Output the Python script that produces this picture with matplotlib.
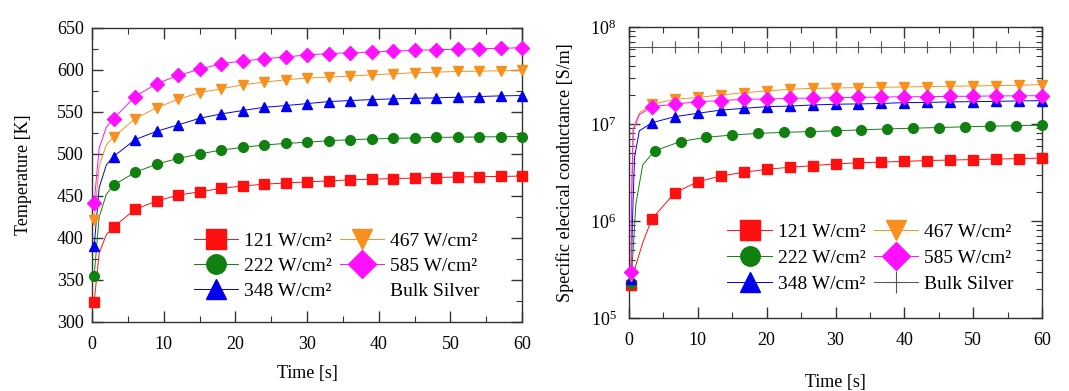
import matplotlib
matplotlib.use("Agg")
import matplotlib.pyplot as plt
from matplotlib.lines import Line2D
from matplotlib.ticker import MultipleLocator, LogLocator, LogFormatterMathtext, NullFormatter

plt.rcParams['font.family'] = ['Liberation Serif', 'DejaVu Serif']
plt.rcParams['mathtext.fontset'] = 'stix'

# ---------------- data: left panel (temperature) ----------------
labels = ['121 W/cm²', '222 W/cm²', '348 W/cm²', '467 W/cm²', '585 W/cm²']
colors = ['#ff1010', '#108010', '#0000ee', '#f8901e', '#ff10ff']
markers = ['s', 'o', '^', 'v', 'D']

t_left = [0.3, 1, 2, 3, 6, 9, 12, 15, 18, 21, 24, 27, 30, 33, 36, 39, 42, 45, 48, 51, 54, 57, 60]
T_121 = [324, 382, 404, 413, 434, 444, 451, 455, 459, 462, 464, 465.5, 466.8, 468, 469.2, 470, 470.8, 471.3, 472, 472.6, 473, 473.3, 473.7]
T_222 = [355, 425, 452, 463, 478, 488, 494.7, 500, 504.7, 507.8, 510.7, 512.6, 514, 515.8, 517, 517.9, 518.6, 519.1, 519.8, 520, 520.3, 520.6, 520.8]
T_348 = [390, 460, 487, 497, 517, 527, 534.6, 542.5, 547.7, 551.7, 555.6, 557.6, 560, 562.4, 563.6, 564.8, 565.6, 566.4, 566.8, 567.6, 568.4, 569.2, 569.6]
T_467 = [422, 486, 511, 520, 542, 555, 565, 573, 577.6, 582.4, 585.5, 588.4, 590.3, 591.5, 592.7, 594.3, 595.5, 596.7, 597.4, 598.3, 598.6, 599.1, 599.5]
T_585 = [442, 507, 532, 542, 568.4, 583.6, 593.5, 600.7, 607.5, 610.6, 613.4, 615.4, 618, 619.4, 620.6, 621.3, 622.5, 623.4, 624.2, 624.6, 625.4, 625.7, 626.6]

# ---------------- data: right panel (conductance) ----------------
t_r_121 = [0.3, 1, 2, 3.33, 6.67, 10, 13.33, 16.67, 20, 23.33, 26.67, 30, 33.33, 36.67, 40, 43.33, 46.67, 50, 53.33, 56.67, 60]
S_121 = [2.2e5, 3.5e5, 6.0e5, 1.05e6, 1.96e6, 2.54e6, 2.91e6, 3.18e6, 3.41e6, 3.58e6, 3.72e6, 3.88e6, 3.98e6, 4.05e6, 4.12e6, 4.2e6, 4.25e6, 4.3e6, 4.35e6, 4.4e6, 4.45e6]
t_r_222 = [0.3, 0.6, 1, 2, 3.75, 7.5, 11.25, 15, 18.75, 22.5, 26.25, 30, 33.75, 37.5, 41.25, 45, 48.75, 52.5, 56.25, 60]
S_222 = [2.3e5, 5e5, 1.5e6, 3.8e6, 5.3e6, 6.6e6, 7.3e6, 7.7e6, 8.0e6, 8.2e6, 8.35e6, 8.5e6, 8.7e6, 8.9e6, 9.05e6, 9.2e6, 9.35e6, 9.5e6, 9.6e6, 9.75e6]
t_r_348 = [0.3, 0.5, 0.8, 1.5, 3.33, 6.67, 10, 13.33, 16.67, 20, 23.33, 26.67, 30, 33.33, 36.67, 40, 43.33, 46.67, 50, 53.33, 56.67, 60]
S_348 = [2.5e5, 1.0e6, 4.5e6, 8.5e6, 1.03e7, 1.19e7, 1.29e7, 1.39e7, 1.45e7, 1.51e7, 1.53e7, 1.57e7, 1.60e7, 1.61e7, 1.63e7, 1.66e7, 1.67e7, 1.69e7, 1.70e7, 1.71e7, 1.73e7, 1.74e7]
t_r_467 = [0.3, 0.4, 0.6, 1.5, 3.33, 6.67, 10, 13.33, 16.67, 20, 23.33, 26.67, 30, 33.33, 36.67, 40, 43.33, 46.67, 50, 53.33, 56.67, 60]
S_467 = [2.7e5, 2.0e6, 9.0e6, 1.3e7, 1.6e7, 1.80e7, 1.88e7, 1.99e7, 2.10e7, 2.19e7, 2.28e7, 2.33e7, 2.35e7, 2.37e7, 2.39e7, 2.41e7, 2.43e7, 2.45e7, 2.47e7, 2.49e7, 2.51e7, 2.55e7]
t_r_585 = [0.3, 0.4, 0.6, 1.5, 3.33, 6.67, 10, 13.33, 16.67, 20, 23.33, 26.67, 30, 33.33, 36.67, 40, 43.33, 46.67, 50, 53.33, 56.67, 60]
S_585 = [3.0e5, 2.0e6, 8.5e6, 1.25e7, 1.51e7, 1.60e7, 1.70e7, 1.74e7, 1.80e7, 1.81e7, 1.84e7, 1.85e7, 1.87e7, 1.88e7, 1.90e7, 1.91e7, 1.91e7, 1.93e7, 1.93e7, 1.95e7, 1.95e7, 1.96e7]
t_bulk = [0, 3.33, 6.67, 10, 13.33, 16.67, 20, 23.33, 26.67, 30, 33.33, 36.67, 40, 43.33, 46.67, 50, 53.33, 56.67, 60]
S_bulk = [6.2e7] * len(t_bulk)

# index of the first regularly-marked point of each right-panel series
right_mark_start = [3, 4, 4, 4, 4]

fig = plt.figure(figsize=(10.69, 3.91), dpi=100)
axL = fig.add_axes([92/1069, 69/391, 430/1069, 294/391])
axR = fig.add_axes([629/1069, 73/391, 413/1069, 291/391])

fs = 13
lfs = 14
msz = [6.5, 7, 7.5, 7.5, 7.5]

# left panel
left_series = [T_121, T_222, T_348, T_467, T_585]
for vals, c, m, ms in zip(left_series, colors, markers, msz):
    n = len(vals)
    axL.plot(t_left, vals, color=c, lw=0.7, marker=m, ms=ms, mec=c, mfc=c,
             markevery=[0] + list(range(3, n)), clip_on=False, zorder=3)

axL.set_xlim(0, 60)
axL.set_ylim(300, 650)
axL.xaxis.set_major_locator(MultipleLocator(10))
axL.xaxis.set_minor_locator(MultipleLocator(5))
axL.yaxis.set_major_locator(MultipleLocator(50))
axL.yaxis.set_minor_locator(MultipleLocator(25))
axL.set_xlabel('Time [s]', fontsize=fs, labelpad=9)
axL.set_ylabel('Temperature [K]', fontsize=fs, labelpad=18)

# right panel
right_t = [t_r_121, t_r_222, t_r_348, t_r_467, t_r_585]
right_v = [S_121, S_222, S_348, S_467, S_585]
for tt, vals, c, m, ms, st in zip(right_t, right_v, colors, markers, msz, right_mark_start):
    n = len(vals)
    axR.plot(tt, vals, color=c, lw=0.7, marker=m, ms=ms, mec=c, mfc=c,
             markevery=[0] + list(range(st, n)), clip_on=False, zorder=3)
axR.plot(t_bulk, S_bulk, color='#555555', lw=0.7, marker='+', ms=8, mew=0.8,
         markevery=list(range(1, len(t_bulk))), zorder=2)

axR.set_xlim(0, 60)
axR.set_yscale('log')
axR.set_ylim(1e5, 1e8)
axR.xaxis.set_major_locator(MultipleLocator(10))
axR.xaxis.set_minor_locator(MultipleLocator(5))
axR.yaxis.set_major_locator(LogLocator(base=10, numticks=10))
axR.yaxis.set_minor_locator(LogLocator(base=10, subs=range(2, 10), numticks=10))
axR.yaxis.set_major_formatter(LogFormatterMathtext())
axR.yaxis.set_minor_formatter(NullFormatter())
axR.set_xlabel('Time [s]', fontsize=fs, labelpad=18)
axR.set_ylabel('Specific elecical conductance [S/m]', fontsize=fs, labelpad=12)

for ax in (axL, axR):
    ax.tick_params(which='both', direction='in', top=True, right=True,
                   labelsize=fs, color='#333333')
    ax.tick_params(which='major', length=8, width=1.0, pad=6)
    ax.tick_params(which='minor', length=4.5, width=0.8)
    for s in ax.spines.values():
        s.set_linewidth(1.0)
        s.set_color('#333333')
axL.tick_params(axis='x', which='major', pad=10)
axR.tick_params(axis='x', which='major', pad=10)
axR.tick_params(axis='y', which='major', pad=9)

# legends
def handles():
    hs = []
    for c, m in zip(colors, markers):
        hs.append(Line2D([], [], color=c, lw=0.7, marker=m, ms=14, mec=c, mfc=c))
    return hs

lab_order = labels + ['Bulk Silver']
hL = handles() + [Line2D([], [], color='none', marker='none')]
axL.legend(hL, lab_order, ncol=2, loc='lower right', bbox_to_anchor=(0.92, 0.05),
           frameon=False, fontsize=lfs, handlelength=2.3, handletextpad=0.3,
           columnspacing=0.4, labelspacing=0.38, borderaxespad=0)

hR = handles() + [Line2D([], [], color='#555555', lw=0.7, marker='+', ms=16, mew=0.8)]
axR.legend(hR, lab_order, ncol=2, loc='lower right', bbox_to_anchor=(0.95, 0.06),
           frameon=False, fontsize=lfs, handlelength=2.3, handletextpad=0.3,
           columnspacing=0.4, labelspacing=0.42, borderaxespad=0)

fig.savefig('out.png', dpi=100)
